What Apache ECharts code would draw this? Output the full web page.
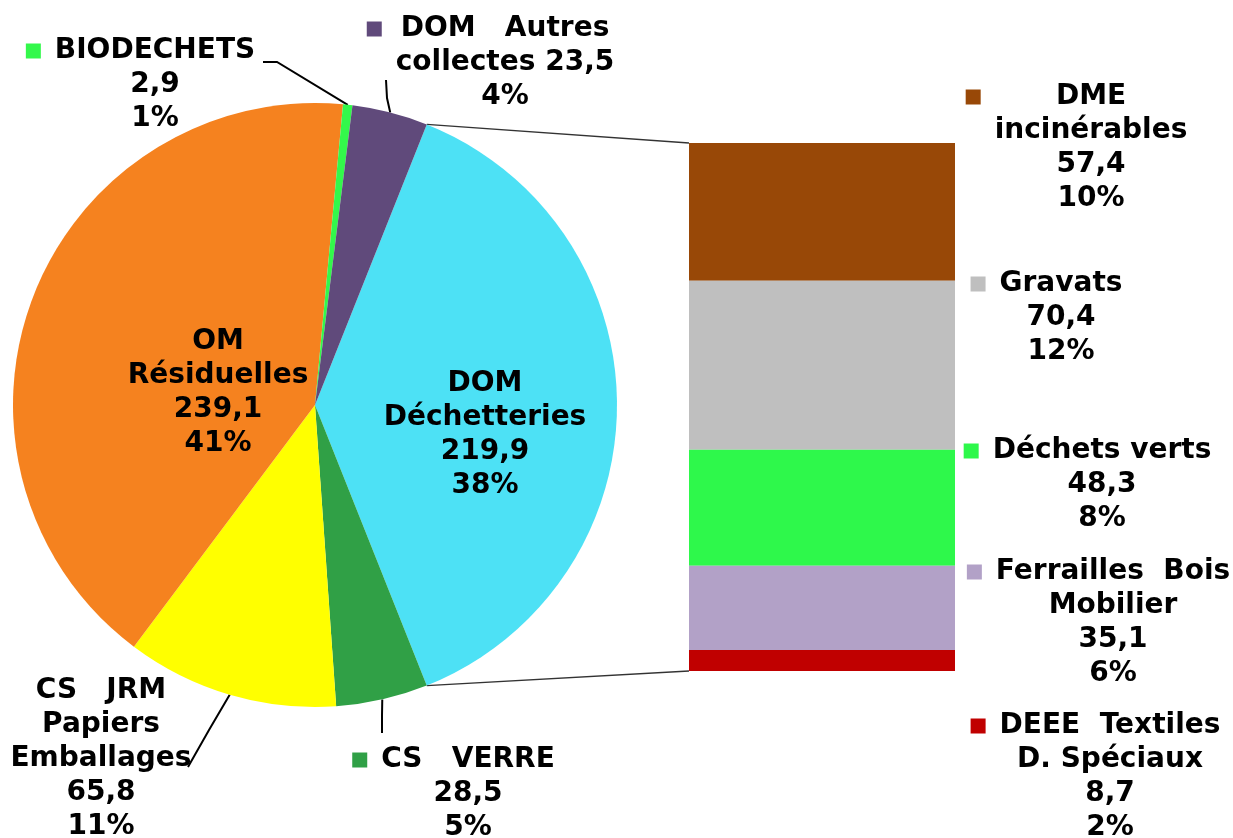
<!DOCTYPE html>
<html>
<head>
<meta charset="utf-8">
<script src="https://cdn.jsdelivr.net/npm/echarts@6.0.0/dist/echarts.min.js"></script>
<style>
  html, body { margin: 0; padding: 0; background: #fff; }
  #chart { width: 1233px; height: 838px; }
</style>
</head>
<body>
<div id="chart"></div>
<script>
// pie: Déchetteries first, then clockwise
var pieNames = ['DOM Déchetteries', 'CS VERRE', 'CS JRM Papiers Emballages', 'OM Résiduelles', 'BIODECHETS', 'DOM Autres collectes']
var pieValues = [219.9, 28.5, 65.8, 239.1, 2.9, 23.5]
var pieLabelLines = [
  ['DOM', 'Déchetteries'],
  ['CS   VERRE'],
  ['CS   JRM', 'Papiers', 'Emballages'],
  ['OM', 'Résiduelles'],
  ['BIODECHETS'],
  ['DOM   Autres', 'collectes']
]
var pieColors = ['#4DE1F5', '#30A046', '#FFFF00', '#F5821F', '#33F84B', '#604A7B']

// bar: detail of DOM Déchetteries, top to bottom
var barNames = ['DME incinérables', 'Gravats', 'Déchets verts', 'Ferrailles Bois Mobilier', 'DEEE Textiles D. Spéciaux']
var barValues = [57.4, 70.4, 48.3, 35.1, 8.7]
var barLabelLines = [
  ['DME', 'incinérables'],
  ['Gravats'],
  ['Déchets verts'],
  ['Ferrailles  Bois', 'Mobilier'],
  ['DEEE  Textiles', 'D. Spéciaux']
]
var barColors = ['#984807', '#BFBFBF', '#2EF84B', '#B2A1C7', '#C00000']

var total = pieValues.reduce(function (a, b) { return a + b }, 0)
var barTotal = barValues.reduce(function (a, b) { return a + b }, 0)

// layout
var pieCenter = [315, 405]
var pieRadius = 302
var gridBox = { left: 689, top: 143, width: 266, height: 528 }
var font = 'DejaVu Sans'
var markerSize = 15
var markerGap = 14
var markerSpace = markerSize + markerGap

var pieMarker = [false, true, false, false, true, true]
var pieInline = [false, false, false, false, false, true]
var pieInside = [true, false, false, true, false, false]
var pieLabelPos = [[485, 435], [468, 794], [101, 759], [218, 393], [155, 85], [505, 63]]
var pieLeader = [null, [[382, 716], [382, 733]], [[209, 730], [188, 767]], null, [[277, 62], [263, 62]], [[387, 98], [386, 80]]]
var barLabelPos = [[1091, 148], [1061, 318], [1102, 485], [1113, 623], [1110, 777]]

function fmt(v) { return v.toFixed(1).replace('.', ',') }
function pct(v) { return Math.round(v / total * 100) + '%' }

function buildText(lines, v, inline, markerKey) {
  var all = lines.slice()
  if (inline) {
    all[all.length - 1] += ' ' + fmt(v)
  } else {
    all.push(fmt(v))
  }
  all.push(pct(v))
  return all.map(function (l, i) {
    var lead = ''
    if (markerKey) lead = i === 0 ? '{' + markerKey + '| }{gap| }' : '{sp| }'
    return lead + '{t|' + l + '}'
  }).join('\n')
}

function makeRich(colors, prefix) {
  var rich = {
    t: { fontFamily: font, fontWeight: 'bold', fontSize: 28, lineHeight: 34, color: '#000', align: 'center' },
    gap: { width: markerGap, align: 'left', fontSize: 10 },
    sp: { width: markerSpace, align: 'left', fontSize: 10 }
  }
  colors.forEach(function (c, i) {
    rich[prefix + i] = { width: markerSize, height: markerSize, backgroundColor: c, align: 'left', fontSize: 10 }
  })
  return rich
}

var halfRad = pieValues[0] / total * Math.PI
var edgeTop = [pieCenter[0] + pieRadius * Math.cos(halfRad), pieCenter[1] - pieRadius * Math.sin(halfRad)]
var edgeBottom = [edgeTop[0], pieCenter[1] + pieRadius * Math.sin(halfRad)]

var chart = echarts.init(document.getElementById('chart'))

var barSeries = barNames.map(function (n, i) {
  return {
    name: n,
    type: 'bar',
    stack: 'dech',
    barWidth: '100%',
    data: [barValues[i]],
    itemStyle: { color: barColors[i] },
    silent: true,
    label: {
      show: true,
      position: 'inside',
      formatter: function (p) {
        return buildText(barLabelLines[p.seriesIndex - 1], p.value, false, 'b' + (p.seriesIndex - 1))
      },
      rich: makeRich(barColors, 'b')
    },
    labelLayout: function (p) {
      var c = barLabelPos[p.seriesIndex - 1]
      return { x: c[0] - markerSpace / 2, y: c[1], align: 'center', verticalAlign: 'middle' }
    }
  }
})

chart.setOption({
  animation: false,
  backgroundColor: '#fff',
  textStyle: { fontFamily: font },
  grid: {
    left: gridBox.left,
    top: gridBox.top,
    width: gridBox.width,
    height: gridBox.height
  },
  xAxis: {
    type: 'category',
    data: ['DOM Déchetteries'],
    show: false
  },
  yAxis: {
    type: 'value',
    inverse: true,
    min: 0,
    max: barTotal,
    show: false
  },
  graphic: [
    { type: 'line', shape: { x1: edgeTop[0], y1: edgeTop[1], x2: gridBox.left, y2: gridBox.top }, style: { stroke: '#333', lineWidth: 1.3 } },
    { type: 'line', shape: { x1: edgeBottom[0], y1: edgeBottom[1], x2: gridBox.left, y2: gridBox.top + gridBox.height }, style: { stroke: '#333', lineWidth: 1.3 } }
  ],
  series: [{
    name: 'Tonnages',
    type: 'pie',
    center: pieCenter,
    radius: pieRadius,
    startAngle: pieValues[0] / total * 180,
    clockwise: true,
    avoidLabelOverlap: false,
    silent: true,
    itemStyle: { borderWidth: 0 },
    label: {
      show: true,
      formatter: function (p) {
        var i = p.dataIndex
        return buildText(pieLabelLines[i], p.value, pieInline[i], pieMarker[i] ? 'm' + i : null)
      },
      rich: makeRich(pieColors, 'm')
    },
    labelLine: {
      show: true,
      length: 10,
      length2: 10,
      lineStyle: { color: '#000', width: 2 }
    },
    labelLayout: function (p) {
      var i = p.dataIndex
      var c = pieLabelPos[i]
      var out = {
        x: c[0] - (pieMarker[i] ? markerSpace / 2 : 0),
        y: c[1],
        align: 'center',
        verticalAlign: 'middle'
      }
      if (pieLeader[i] && p.labelLinePoints) {
        out.labelLinePoints = [p.labelLinePoints[0], pieLeader[i][0], pieLeader[i][1]]
      }
      return out
    },
    data: pieNames.map(function (n, i) {
      var item = { name: n, value: pieValues[i], itemStyle: { color: pieColors[i] } }
      if (pieInside[i]) {
        item.label = { position: 'inside' }
        item.labelLine = { show: false }
      }
      return item
    })
  }].concat(barSeries)
})
</script>
</body>
</html>
